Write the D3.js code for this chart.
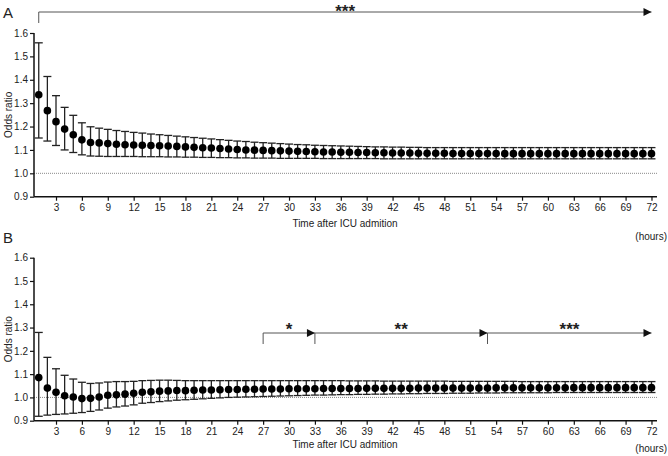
<!DOCTYPE html>
<html>
<head>
<meta charset="utf-8">
<script src="https://cdn.jsdelivr.net/npm/d3@7"></script>
<style>
  body { margin: 0; background: #fff; }
  text { font-family: "Liberation Sans", Arial, sans-serif; fill: #222; }
</style>
</head>
<body>
<div id="chart"></div>
<script>
// hours after ICU admission (1..72)
var hours = [1,2,3,4,5,6,7,8,9,10,11,12,13,14,15,16,17,18,19,20,21,22,23,24,25,26,27,28,29,30,31,32,33,34,35,36,
  37,38,39,40,41,42,43,44,45,46,47,48,49,50,51,52,53,54,55,56,57,58,59,60,61,62,63,64,65,66,67,68,69,70,71,72];

// panel A : odds ratio and 95% CI
var orA = [1.336,1.268,1.221,1.189,1.165,1.143,1.132,1.130,1.127,1.124,1.122,1.121,1.120,1.119,1.118,1.117,1.115,1.113,
  1.111,1.109,1.108,1.106,1.104,1.102,1.100,1.099,1.098,1.097,1.096,1.095,1.094,1.093,1.092,1.091,1.091,1.090,
  1.090,1.089,1.089,1.088,1.088,1.087,1.087,1.087,1.086,1.086,1.086,1.086,1.085,1.085,1.085,1.085,1.085,1.085,
  1.084,1.084,1.084,1.084,1.084,1.084,1.084,1.084,1.084,1.084,1.084,1.084,1.084,1.084,1.084,1.084,1.084,1.084];
var hiA = [1.558,1.414,1.332,1.282,1.248,1.216,1.199,1.193,1.188,1.183,1.179,1.175,1.172,1.168,1.165,1.162,1.159,1.156,
  1.153,1.150,1.147,1.144,1.141,1.138,1.136,1.133,1.131,1.129,1.127,1.125,1.123,1.122,1.120,1.119,1.118,1.117,
  1.116,1.115,1.114,1.113,1.113,1.112,1.112,1.111,1.111,1.110,1.110,1.110,1.110,1.110,1.110,1.110,1.110,1.110,
  1.110,1.110,1.110,1.110,1.110,1.110,1.110,1.110,1.110,1.110,1.110,1.110,1.110,1.110,1.110,1.110,1.110,1.110];
var loA = [1.151,1.138,1.119,1.100,1.089,1.079,1.074,1.073,1.072,1.072,1.072,1.072,1.071,1.071,1.071,1.070,1.070,1.069,
  1.069,1.068,1.068,1.067,1.067,1.066,1.066,1.065,1.065,1.065,1.064,1.064,1.064,1.064,1.064,1.063,1.063,1.063,
  1.063,1.063,1.063,1.063,1.062,1.062,1.062,1.062,1.062,1.062,1.062,1.062,1.062,1.062,1.062,1.062,1.062,1.062,
  1.062,1.062,1.062,1.062,1.062,1.062,1.062,1.062,1.062,1.062,1.062,1.062,1.062,1.062,1.062,1.062,1.062,1.062];

// panel B
var orB = [1.085,1.040,1.022,1.007,1.002,0.995,0.996,1.002,1.009,1.011,1.014,1.018,1.022,1.024,1.027,1.028,1.030,1.029,
  1.031,1.032,1.032,1.033,1.034,1.034,1.035,1.035,1.036,1.036,1.036,1.037,1.037,1.037,1.037,1.038,1.038,1.038,
  1.038,1.038,1.039,1.039,1.039,1.039,1.039,1.039,1.040,1.040,1.040,1.040,1.040,1.040,1.040,1.040,1.040,1.041,
  1.041,1.041,1.041,1.041,1.041,1.041,1.041,1.041,1.042,1.042,1.042,1.042,1.042,1.042,1.042,1.042,1.042,1.042];
var hiB = [1.279,1.172,1.123,1.095,1.079,1.065,1.060,1.062,1.066,1.068,1.068,1.069,1.072,1.073,1.074,1.074,1.073,1.072,
  1.072,1.072,1.072,1.072,1.072,1.072,1.072,1.072,1.072,1.072,1.072,1.072,1.072,1.072,1.072,1.072,1.072,1.072,
  1.071,1.071,1.071,1.071,1.070,1.070,1.070,1.070,1.070,1.070,1.070,1.070,1.069,1.069,1.069,1.069,1.069,1.069,
  1.069,1.069,1.068,1.068,1.068,1.068,1.068,1.068,1.068,1.068,1.068,1.068,1.068,1.068,1.068,1.068,1.068,1.068];
var loB = [0.919,0.924,0.927,0.929,0.932,0.935,0.940,0.946,0.954,0.959,0.963,0.968,0.975,0.978,0.982,0.985,0.988,0.990,
  0.992,0.994,0.996,0.998,1.000,1.001,1.002,1.003,1.004,1.005,1.006,1.007,1.008,1.009,1.010,1.010,1.011,1.012,
  1.012,1.013,1.013,1.014,1.014,1.015,1.015,1.016,1.016,1.017,1.017,1.017,1.018,1.018,1.018,1.019,1.019,1.019,
  1.020,1.020,1.020,1.020,1.020,1.020,1.021,1.021,1.021,1.021,1.021,1.021,1.021,1.021,1.021,1.021,1.021,1.021];

var yTicks = [0.9, 1.0, 1.1, 1.2, 1.3, 1.4, 1.5, 1.6];
var xTicks = [3,6,9,12,15,18,21,24,27,30,33,36,39,42,45,48,51,54,57,60,63,66,69,72];

// significance brackets: start hour, end hour, label
var sigStartA = [1],  sigEndA = [72], sigLabA = ["***"];
var sigStartB = [27, 33, 53], sigEndB = [33, 53, 72], sigLabB = ["*", "**", "***"];

var svgWidth = 668, svgHeight = 456;

var svg = d3.select("#chart").append("svg")
  .attr("width", svgWidth)
  .attr("height", svgHeight);

var defs = svg.append("defs");
defs.append("marker")
  .attr("id", "arrow")
  .attr("viewBox", "0 0 10 10")
  .attr("refX", 10).attr("refY", 5)
  .attr("markerWidth", 9).attr("markerHeight", 8)
  .attr("markerUnits", "userSpaceOnUse")
  .attr("orient", "auto")
  .append("path")
  .attr("d", "M0,0L10,5L0,10Z")
  .attr("fill", "#111");

var x = d3.scaleLinear().domain([0.45, 72.64]).range([34, 657]);

function drawPanel(letter, top, bottom, orv, hiv, lov, sigStart, sigEnd, sigLab, sigY, labY, titleY, hoursY) {
  var y = d3.scaleLinear().domain([0.9, 1.6]).range([bottom, top]);
  var g = svg.append("g");

  g.append("text")
    .attr("x", 3).attr("y", top - 15)
    .style("font-size", "15px")
    .text(letter);

  // reference line at 1.0
  g.append("line")
    .attr("x1", x.range()[0]).attr("x2", x.range()[1] + 1)
    .attr("y1", y(1)).attr("y2", y(1))
    .attr("stroke", "#888")
    .attr("stroke-width", 1)
    .attr("stroke-dasharray", "1,1");

  // axes
  var yAxis = d3.axisLeft(y).tickValues(yTicks).tickFormat(d3.format(".1f")).tickSize(4).tickPadding(2);
  var gy = g.append("g").attr("transform", "translate(" + x.range()[0] + ",0)").call(yAxis);
  var xAxis = d3.axisBottom(x).tickValues(xTicks).tickSize(4).tickPadding(3);
  var gx = g.append("g").attr("transform", "translate(0," + bottom + ")").call(xAxis);
  [gx, gy].forEach(function(a) {
    a.select(".domain").attr("stroke", "#111").attr("stroke-width", 1.5);
    a.selectAll(".tick line").attr("stroke", "#111").attr("stroke-width", 1.2);
    a.selectAll("text").style("font-size", "10px").attr("fill", "#222")
      .style("font-family", "'Liberation Sans', Arial, sans-serif");
  });
  gy.select(".domain").attr("d", "M0," + bottom + "V" + top);
  gx.select(".domain").attr("d", "M" + x.range()[0] + ",0H" + x.range()[1]);

  g.append("text")
    .attr("transform", "translate(12," + ((top + bottom) / 2) + ") rotate(-90)")
    .attr("text-anchor", "middle")
    .style("font-size", "10px")
    .text("Odds ratio");

  g.append("text")
    .attr("x", 345).attr("y", titleY)
    .attr("text-anchor", "middle")
    .style("font-size", "10px")
    .text("Time after ICU admition");

  g.append("text")
    .attr("x", 667).attr("y", hoursY)
    .attr("text-anchor", "end")
    .style("font-size", "10px")
    .text("(hours)");

  // error bars
  var bars = g.selectAll(".bar").data(hours).enter().append("g").attr("class", "bar");
  bars.append("line")
    .attr("x1", d => x(d)).attr("x2", d => x(d))
    .attr("y1", (d, i) => y(hiv[i])).attr("y2", (d, i) => y(lov[i]))
    .attr("stroke", "#222").attr("stroke-width", 1.3);
  bars.append("line")
    .attr("x1", d => x(d) - 4).attr("x2", d => x(d) + 4)
    .attr("y1", (d, i) => y(hiv[i])).attr("y2", (d, i) => y(hiv[i]))
    .attr("stroke", "#222").attr("stroke-width", 1.3);
  bars.append("line")
    .attr("x1", d => x(d) - 4).attr("x2", d => x(d) + 4)
    .attr("y1", (d, i) => y(lov[i])).attr("y2", (d, i) => y(lov[i]))
    .attr("stroke", "#222").attr("stroke-width", 1.3);

  g.selectAll(".dot").data(hours).enter().append("circle")
    .attr("class", "dot")
    .attr("cx", d => x(d))
    .attr("cy", (d, i) => y(orv[i]))
    .attr("r", 3.8)
    .attr("fill", "#000");

  // significance brackets
  sigStart.forEach(function(s, i) {
    var e = sigEnd[i];
    g.append("line")
      .attr("x1", x(s)).attr("x2", x(s))
      .attr("y1", sigY).attr("y2", sigY + 11)
      .attr("stroke", "#555").attr("stroke-width", 1);
    g.append("line")
      .attr("x1", x(s)).attr("x2", x(e))
      .attr("y1", sigY).attr("y2", sigY)
      .attr("stroke", "#555").attr("stroke-width", 1)
      .attr("marker-end", "url(#arrow)");
    g.append("text")
      .attr("x", x((s + e) / 2)).attr("y", labY)
      .attr("text-anchor", "middle")
      .style("font-size", "17px")
      .style("font-weight", "bold")
      .attr("fill", "#111")
      .text(sigLab[i]);
  });
}

drawPanel("A", 33, 196.7, orA, hiA, loA, sigStartA, sigEndA, sigLabA, 12, 17, 227, 240);
drawPanel("B", 257.7, 420.7, orB, hiB, loB, sigStartB, sigEndB, sigLabB, 333, 335, 448, 452);
</script>
</body>
</html>
